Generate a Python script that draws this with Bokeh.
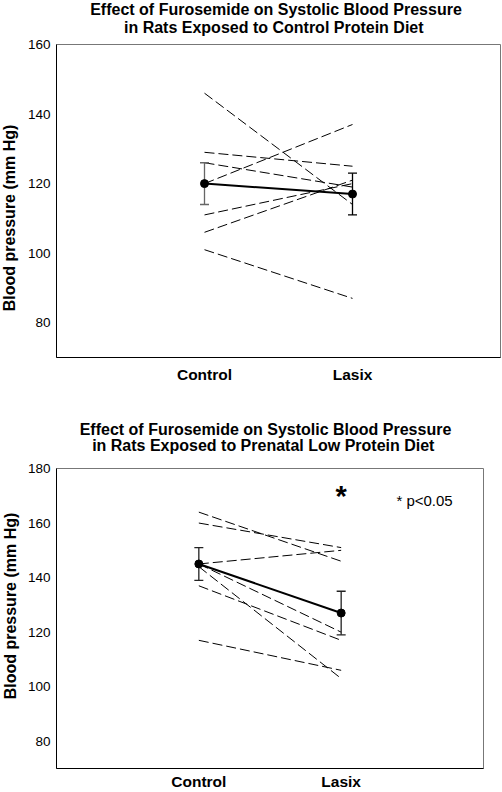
import math
from bokeh.plotting import figure
from bokeh.layouts import column, row
from bokeh.models import FixedTicker, Range1d, ColumnDataSource
from bokeh.core.properties import value
from bokeh.embed import file_html
from bokeh.resources import INLINE

FONT = "Liberation Sans"

categories = ["Control", "Lasix"]

# Panel A: control protein diet (individual rats: Control -> Lasix)
a_control = [146, 129, 126, 120, 111, 106, 101]
a_lasix = [114, 125, 119, 137, 120, 121, 87]
a_mean = [120, 117]
a_err = [6, 6]
a_err_colors = ["#666666", "#000000"]
a_yticks = [80, 100, 120, 140, 160]
a_title = ["Effect of Furosemide on Systolic Blood Pressure",
           "in Rats  Exposed to Control Protein Diet"]

# Panel B: prenatal low protein diet
b_control = [164, 160, 145, 145, 144, 137, 117]
b_lasix = [146, 151, 150, 120, 103, 117, 106]
b_mean = [145, 127]
b_err = [6, 8]
b_err_colors = ["#222222", "#222222"]
b_yticks = [80, 100, 120, 140, 160, 180]
b_title = ["Effect of Furosemide on Systolic Blood Pressure",
           "in Rats  Exposed to Prenatal Low Protein Diet"]

sig_marker = "*"
sig_note = "* p<0.05"

y_label = "Blood pressure (mm Hg)"

W = 502
YLAB_W = 24


def strip(width, height):
    s = figure(width=width, height=height, output_backend="svg", toolbar_location=None,
               x_range=Range1d(0, width), y_range=Range1d(0, height),
               x_axis_type=None, y_axis_type=None, min_border=0,
               background_fill_color="white", border_fill_color="white")
    s.frame_align = False
    s.outline_line_color = None
    return s


def title_strip(lines, height, cx, ys):
    s = strip(W, height)
    s.text(x=[cx] * len(lines), y=ys, text=lines, text_font=value(FONT),
           text_font_size="16px", text_font_style="bold", text_align="center",
           text_baseline="middle", text_color="#000000")
    return s


def ylabel_strip(height, cx, cy):
    s = strip(YLAB_W, height)
    s.text(x=[cx], y=[cy], text=[y_label], angle=math.pi / 2, text_font=value(FONT),
           text_font_size="16px", text_font_style="bold", text_align="center",
           text_baseline="middle", text_color="#000000")
    return s


def make_panel(control, lasix, mean, err, err_colors, yticks, yr, height,
               borders, x_standoff, sig=None):
    left, right, top, bottom = borders
    xpos = [i + 1 for i in range(len(categories))]
    p = figure(width=W - YLAB_W, height=height, output_backend="svg", toolbar_location=None,
               x_range=Range1d(0, len(categories) + 1), y_range=Range1d(*yr),
               min_border_left=left, min_border_right=right,
               min_border_top=top, min_border_bottom=bottom,
               background_fill_color="white", border_fill_color="white")
    p.frame_align = False
    p.outline_line_color = "#777777"
    p.outline_line_width = 1
    p.xgrid.visible = False
    p.ygrid.visible = False

    for ax in (p.xaxis[0], p.yaxis[0]):
        ax.major_tick_line_color = None
        ax.minor_tick_line_color = None
        ax.major_tick_out = 0
        ax.minor_tick_out = 0
        ax.major_tick_in = 0
        ax.minor_tick_in = 0
        ax.axis_line_color = "#000000"
        ax.major_label_text_font = FONT
        ax.major_label_text_color = "#000000"
    p.xaxis.ticker = FixedTicker(ticks=xpos)
    p.xaxis.major_label_overrides = {x: c for x, c in zip(xpos, categories)}
    p.xaxis.major_label_text_font_size = "15.5px"
    p.xaxis.major_label_text_font_style = "bold"
    p.xaxis.major_label_standoff = x_standoff
    p.yaxis.ticker = FixedTicker(ticks=yticks)
    p.yaxis.major_label_text_font_size = "13.5px"
    p.yaxis.major_label_standoff = 6

    # individual rats
    p.multi_line(xs=[xpos for _ in control], ys=[[c, l] for c, l in zip(control, lasix)],
                 line_color="#000000", line_width=1, line_dash="10 4")

    # mean line, error bars, markers
    p.line(xpos, mean, line_color="#000000", line_width=2)
    src = ColumnDataSource(dict(x=xpos, lo=[m - e for m, e in zip(mean, err)],
                                hi=[m + e for m, e in zip(mean, err)], c=err_colors))
    p.segment(x0="x", y0="lo", x1="x", y1="hi", line_color="c", line_width=1.3, source=src)
    p.scatter(x="x", y="hi", marker="dash", size=9, line_color="c", line_width=1.3, source=src)
    p.scatter(x="x", y="lo", marker="dash", size=9, line_color="c", line_width=1.3, source=src)
    p.scatter(xpos, mean, size=8, fill_color="#000000", line_color="#000000")

    if sig is not None:
        star_y, note_y, note_x = sig
        p.text(x=[xpos[1]], y=[star_y], text=[sig_marker], text_font=value(FONT),
               text_font_size="29px", text_font_style="bold", text_align="center",
               text_baseline="middle", text_color="#000000")
        p.text(x=[note_x], y=[note_y], text=[sig_note], text_font=value(FONT),
               text_font_size="15px", text_align="left", text_baseline="middle",
               text_color="#000000")
    return p


# top block: title strip 36 px + plot row 356 px
t1 = title_strip(a_title, 36, 275.5, [27.0, 9.4])
y1 = ylabel_strip(356, 9.0, 174.5)
p1 = make_panel(a_control, a_lasix, a_mean, a_err, a_err_colors, a_yticks, (70, 160),
                height=356, borders=(30, 2, 8, 35), x_standoff=8)

# bottom block: title strip 68 px + plot row 332 px
t2 = title_strip(b_title, 68, 265.0, [31.4, 15.0])
y2 = ylabel_strip(332, 9.5, 186.5)
p2 = make_panel(b_control, b_lasix, b_mean, b_err, b_err_colors, b_yticks, (70, 180),
                height=332, borders=(31, 19, 8, 24), x_standoff=4,
                sig=(169.8, 168.1, 2.388))

layout = column(t1, row(y1, p1, spacing=0), t2, row(y2, p2, spacing=0), spacing=0)
open("out.html", "w").write(file_html(layout, INLINE))
